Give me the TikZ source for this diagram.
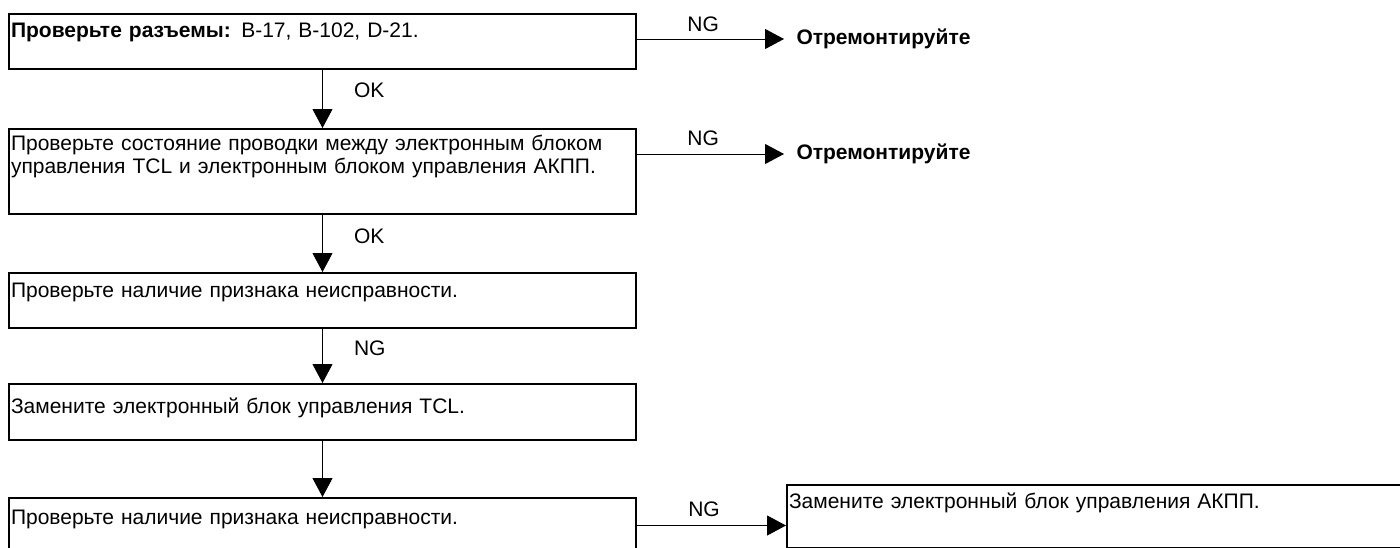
\documentclass[tikz,border=0pt]{standalone}
\usepackage{fontspec}
\setmainfont{Liberation Sans}
\usetikzlibrary{arrows.meta}
\usetikzlibrary{positioning}
\tikzset{
    stepbox/.style={
           rectangle,
           draw=black, line width=2pt,
           text width=623pt,
           inner xsep=2pt,
           inner ysep=0pt,
           align=left,
           },
    repair/.style={
           inner xsep=12pt,
           inner ysep=0pt,
           font=\fontsize{21}{23}\bfseries,
           },
    lbl/.style={inner sep=0pt},
}

\begin{document}
\begin{tikzpicture}[x=1pt, y=1pt, ->, >={Triangle[length=19pt,width=20pt]},
        line width=1pt, font=\fontsize{21}{23}\selectfont]
        \useasboundingbox (0,0) rectangle (1400,-547);

        % STEP 1: connectors
        \node[stepbox,
            anchor=north west,
            text height=23.5pt, text depth=31.5pt] (CHK_CONN) at (8,-13)
        {\textbf{Проверьте разъемы:} B-17, B-102, D-21.};

        % STEP 2: wiring between the two control units
        \node[stepbox,
            below=58pt of CHK_CONN,
            text height=21pt, text depth=64pt] (CHK_WIRE)
        {Проверьте состояние проводки между электронным блоком\\
         управления TCL и электронным блоком управления АКПП.};

        % STEP 3: symptom check
        \node[stepbox,
            below=57pt of CHK_WIRE,
            text height=24pt, text depth=31pt] (CHK_SYMPT)
        {Проверьте наличие признака неисправности.};

        % STEP 4: replace TCL unit
        \node[stepbox,
            below=54pt of CHK_SYMPT,
            text height=29pt, text depth=27pt] (REPL_TCL)
        {Замените электронный блок управления TCL.};

        % STEP 5: symptom check again
        \node[stepbox,
            below=56pt of REPL_TCL,
            text height=26pt, text depth=29pt] (CHK_FINAL)
        {Проверьте наличие признака неисправности.};

        % repair exits on the right
        \node[repair, anchor=west] (REP1)
            at ([xshift=147pt, yshift=-26pt]CHK_CONN.north east) {Отремонтируйте};
        \node[repair, anchor=west] (REP2)
            at ([xshift=147pt, yshift=-26pt]CHK_WIRE.north east) {Отремонтируйте};

        % replace AT unit
        \node[stepbox,
            text width=640pt,
            anchor=north west,
            text height=23pt, text depth=39.5pt] (REPL_ECU)
            at ([xshift=149pt, yshift=13pt]CHK_FINAL.north east)
        {Замените электронный блок управления АКПП.};

        % main flow
        \path
        (CHK_CONN)  edge node[lbl, pos=0.35, right=31pt]{OK} (CHK_WIRE)
        (CHK_WIRE)  edge node[lbl, pos=0.37, right=31pt]{OK} (CHK_SYMPT)
        (CHK_SYMPT) edge node[lbl, pos=0.35, right=31pt]{NG} (REPL_TCL)
        (REPL_TCL)  edge (CHK_FINAL)
        ;

        % NG branches
        \draw (CHK_CONN.east |- REP1) -- node[lbl, pos=0.45, above=7pt]{NG} (REP1);
        \draw (CHK_WIRE.east |- REP2) -- node[lbl, pos=0.45, above=8pt]{NG} (REP2);
        \draw (CHK_FINAL.east) -- node[lbl, pos=0.45, above=8pt]{NG} (CHK_FINAL.east -| REPL_ECU.west);
\end{tikzpicture}
\end{document}
